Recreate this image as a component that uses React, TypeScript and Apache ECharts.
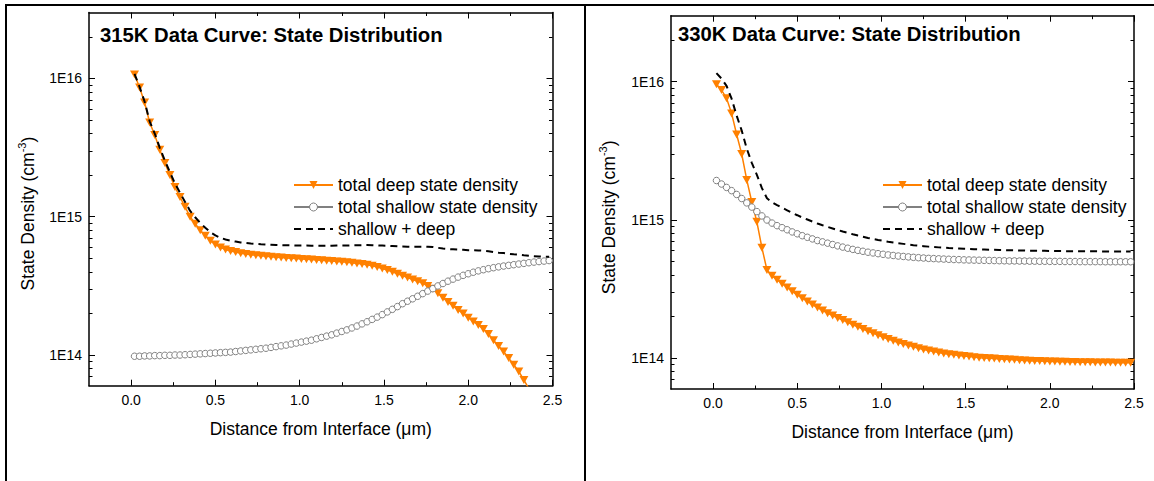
import React, { useEffect, useRef } from "react";
import * as echarts from "echarts";

// Values in units of 1E14 cm^-3
const UNIT = 1e14;

const distance = [
  0.02, 0.05, 0.08, 0.11, 0.14, 0.17, 0.2, 0.23, 0.26, 0.29,
  0.32, 0.35, 0.38, 0.41, 0.44, 0.47, 0.5, 0.53, 0.56, 0.59,
  0.62, 0.65, 0.68, 0.71, 0.74, 0.77, 0.8, 0.83, 0.86, 0.89,
  0.92, 0.95, 0.98, 1.01, 1.04, 1.07, 1.1, 1.13, 1.16, 1.19,
  1.22, 1.25, 1.28, 1.31, 1.34, 1.37, 1.4, 1.43, 1.46, 1.49,
  1.52, 1.55, 1.58, 1.61, 1.64, 1.67, 1.7, 1.73, 1.76, 1.79,
  1.82, 1.85, 1.88, 1.91, 1.94, 1.97, 2.0, 2.03, 2.06, 2.09,
  2.12, 2.15, 2.18, 2.21, 2.24, 2.27, 2.3, 2.33, 2.36, 2.39,
  2.42, 2.45, 2.48,
];

const deep315 = [
  107, 86, 67, 48, 39, 30.5, 24.5, 20, 16.4, 13.9,
  11.8, 10.0, 8.9, 8.0, 7.3, 6.7, 6.3, 6.0, 5.8, 5.65,
  5.55, 5.45, 5.38, 5.32, 5.27, 5.22, 5.18, 5.14, 5.1, 5.07,
  5.04, 5.01, 4.98, 4.95, 4.93, 4.9, 4.87, 4.84, 4.81, 4.78,
  4.75, 4.72, 4.68, 4.64, 4.6, 4.55, 4.5, 4.42, 4.33, 4.23,
  4.12, 4.0, 3.87, 3.75, 3.63, 3.52, 3.42, 3.3, 3.16, 3.02,
  2.8, 2.6, 2.42, 2.27, 2.12, 2.0, 1.86, 1.75, 1.65, 1.54,
  1.42, 1.28, 1.16, 1.06, 0.95, 0.85, 0.76, 0.66, 0.57, 0.49,
  0.42, 0.36, 0.31,
];

const shallow315 = [
  0.98, 0.98, 0.985, 0.985, 0.99, 0.99, 0.995, 0.995, 1.0, 1.0,
  1.005, 1.01, 1.015, 1.02, 1.025, 1.03, 1.035, 1.04, 1.045, 1.05,
  1.06, 1.07, 1.08, 1.09, 1.1, 1.11, 1.12, 1.135, 1.15, 1.165,
  1.18, 1.2, 1.22, 1.24, 1.26, 1.28, 1.31, 1.34, 1.37, 1.4,
  1.44, 1.48, 1.52, 1.57, 1.62, 1.68, 1.74, 1.81, 1.88, 1.96,
  2.05, 2.14, 2.24, 2.35, 2.45, 2.55, 2.66, 2.78, 2.9, 3.02,
  3.16, 3.29, 3.42, 3.54, 3.66, 3.77, 3.87, 3.97, 4.06, 4.14,
  4.21, 4.28, 4.34, 4.4, 4.45, 4.5, 4.55, 4.6, 4.65, 4.7,
  4.74, 4.78, 4.82,
];

const deep330 = [
  96, 87, 76, 59, 41.5, 30, 19.5, 13.5, 9.7, 6.3,
  4.35, 3.95, 3.7, 3.46, 3.25, 3.05, 2.88, 2.72, 2.58, 2.45,
  2.33, 2.22, 2.12, 2.04, 1.96, 1.89, 1.82, 1.75, 1.69, 1.63,
  1.57, 1.52, 1.47, 1.42, 1.38, 1.34, 1.3, 1.27, 1.24, 1.21,
  1.18, 1.16, 1.14, 1.12, 1.1, 1.085, 1.07, 1.06, 1.05, 1.04,
  1.03, 1.02, 1.01, 1.005, 1.0, 0.995, 0.99, 0.985, 0.98, 0.975,
  0.97, 0.966, 0.962, 0.958, 0.955, 0.952, 0.95, 0.948, 0.946, 0.944,
  0.942, 0.94, 0.938, 0.936, 0.935, 0.934, 0.933, 0.932, 0.931, 0.93,
  0.93, 0.93, 0.93,
];

const shallow330 = [
  19.3, 18.2, 17.2, 16.3, 15.3, 14.3, 13.3, 12.4, 11.5, 10.7,
  10.0, 9.5, 9.1, 8.8, 8.5, 8.2, 7.95, 7.7, 7.5, 7.3,
  7.1, 6.95, 6.8, 6.65, 6.5, 6.37, 6.25, 6.13, 6.03, 5.94,
  5.85, 5.78, 5.71, 5.65, 5.59, 5.54, 5.49, 5.45, 5.41, 5.37,
  5.34, 5.31, 5.28, 5.26, 5.24, 5.22, 5.2, 5.18, 5.17, 5.15,
  5.14, 5.13, 5.12, 5.11, 5.1, 5.09, 5.08, 5.07, 5.06, 5.06,
  5.05, 5.05, 5.04, 5.04, 5.03, 5.03, 5.02, 5.02, 5.02, 5.01,
  5.01, 5.01, 5.0, 5.0, 5.0, 5.0, 5.0, 4.99, 4.99, 4.99,
  4.99, 4.99, 4.99,
];

const panelTitles = [
  "315K Data Curve: State Distribution",
  "330K Data Curve: State Distribution",
];
const seriesNames = [
  "total deep state density",
  "total shallow state density",
  "shallow + deep",
];
const xAxisTitle = "Distance from Interface (\u03bcm)";
const yAxisTitle = "{n|State Density (cm}{s|-3}{n|)}";

const xRange = [-0.25, 2.5];
const yRange = [6e13, 3e16];
const xTickValues = [0, 0.5, 1, 1.5, 2, 2.5];
const xMinorValues = [0.25, 0.75, 1.25, 1.75, 2.25];
const yTickValues = [1e14, 1e15, 1e16];
const yTickLabels = ["1E14", "1E15", "1E16"];
const yMinorValues = [
  7e13, 8e13, 9e13,
  2e14, 3e14, 4e14, 5e14, 6e14, 7e14, 8e14, 9e14,
  2e15, 3e15, 4e15, 5e15, 6e15, 7e15, 8e15, 9e15,
  2e16,
];

const FONT = "'Liberation Sans', Arial, Helvetica, sans-serif";
const ORANGE = "#FF8000";
const GRAY = "#808080";

const panels = [
  {
    grid: { left: 89, top: 12.5, width: 463.5, height: 373.2 },
    title: { left: 100, top: 25 },
    legend: { left: 293, top: 174 },
    yNameGap: 61.5,
    yNameShift: 29,
    deep: deep315,
    shallow: shallow315,
  },
  {
    grid: { left: 671, top: 15.7, width: 463, height: 373.3 },
    title: { left: 678, top: 24.3 },
    legend: { left: 882, top: 174 },
    yNameGap: 62.5,
    yNameShift: 30,
    deep: deep330,
    shallow: shallow330,
  },
];

function yLabel(v: number): string {
  const i = yTickValues.findIndex((t) => Math.abs(t - v) / t < 1e-6);
  return i >= 0 ? yTickLabels[i] : "";
}

function buildOption() {
  const grids: any[] = [];
  const xAxes: any[] = [];
  const yAxes: any[] = [];
  const series: any[] = [];
  const titles: any[] = [];
  const legends: any[] = [];

  const axisLine = { show: true, onZero: false, lineStyle: { color: "#000", width: 1.5 } };
  const noLine = { show: false, onZero: false };
  const majorTick = (vals: number[]) => ({
    show: true,
    inside: true,
    length: 6,
    customValues: vals,
    lineStyle: { color: "#000", width: 1 },
  });
  const minorTick = (vals: number[]) => ({
    show: true,
    inside: true,
    length: 3.5,
    customValues: vals,
    lineStyle: { color: "#000", width: 1 },
  });
  const noLabel = { show: false };

  panels.forEach((p, pi) => {
    const gMain = pi * 2;
    const gMinor = pi * 2 + 1;
    grids.push({ ...p.grid, outerBoundsMode: "none", containLabel: false });
    grids.push({ ...p.grid, outerBoundsMode: "none", containLabel: false });

    const xBase = { type: "value", min: xRange[0], max: xRange[1], splitLine: { show: false } };
    const yBase = { type: "log", logBase: 10, min: yRange[0], max: yRange[1], splitLine: { show: false } };

    xAxes.push(
      {
        ...xBase,
        gridIndex: gMain,
        position: "bottom",
        axisLine,
        axisTick: majorTick(xTickValues),
        axisLabel: {
          customValues: xTickValues,
          formatter: (v: number) => v.toFixed(1),
          margin: 7,
          fontSize: 14,
          color: "#000",
          fontFamily: FONT,
        },
        name: xAxisTitle,
        nameLocation: "middle",
        nameGap: 43,
        nameMoveOverlap: false,
        nameTextStyle: { fontSize: 17.5, color: "#000", fontFamily: FONT, verticalAlign: "middle" },
      },
      { ...xBase, gridIndex: gMain, position: "top", axisLine, axisTick: majorTick(xTickValues), axisLabel: noLabel },
      { ...xBase, gridIndex: gMinor, position: "bottom", axisLine: noLine, axisTick: minorTick(xMinorValues), axisLabel: noLabel },
      { ...xBase, gridIndex: gMinor, position: "top", axisLine: noLine, axisTick: minorTick(xMinorValues), axisLabel: noLabel }
    );

    yAxes.push(
      {
        ...yBase,
        gridIndex: gMain,
        position: "left",
        axisLine,
        axisTick: majorTick(yTickValues),
        axisLabel: {
          customValues: yTickValues,
          formatter: yLabel,
          margin: 7,
          fontSize: 14,
          color: "#000",
          fontFamily: FONT,
        },
        name: yAxisTitle,
        nameLocation: "middle",
        nameGap: p.yNameGap,
        nameMoveOverlap: false,
        nameTextStyle: {
          fontSize: 17.5,
          color: "#000",
          fontFamily: FONT,
          verticalAlign: "middle",
          padding: [0, p.yNameShift, 0, 0],
          rich: {
            n: { fontSize: 17.5, fontFamily: FONT, color: "#000", lineHeight: 22 },
            s: { fontSize: 11, fontFamily: FONT, color: "#000", lineHeight: 12, verticalAlign: "top" },
          },
        },
      },
      { ...yBase, gridIndex: gMain, position: "right", axisLine, axisTick: majorTick(yTickValues), axisLabel: noLabel },
      { ...yBase, gridIndex: gMinor, position: "left", axisLine: noLine, axisTick: minorTick(yMinorValues), axisLabel: noLabel },
      { ...yBase, gridIndex: gMinor, position: "right", axisLine: noLine, axisTick: minorTick(yMinorValues), axisLabel: noLabel }
    );

    const ax = pi * 4;
    series.push(
      {
        type: "line",
        name: seriesNames[0],
        xAxisIndex: ax,
        yAxisIndex: ax,
        data: distance.map((x, i) => [x, p.deep[i] * UNIT]),
        symbol: "triangle",
        symbolRotate: 180,
        symbolSize: [9, 8],
        showSymbol: true,
        clip: true,
        itemStyle: { color: ORANGE },
        lineStyle: { color: ORANGE, width: 1.5 },
        emphasis: { disabled: true },
        z: 2,
      },
      {
        type: "line",
        name: seriesNames[1],
        xAxisIndex: ax,
        yAxisIndex: ax,
        data: distance.map((x, i) => [x, p.shallow[i] * UNIT]),
        symbol: "circle",
        symbolSize: 6.5,
        showSymbol: true,
        clip: true,
        itemStyle: { color: "#fff", borderColor: GRAY, borderWidth: 1 },
        lineStyle: { color: GRAY, width: 1.5 },
        emphasis: { disabled: true },
        z: 3,
      },
      {
        type: "line",
        name: seriesNames[2],
        xAxisIndex: ax,
        yAxisIndex: ax,
        data: distance.map((x, i) => [x, (p.deep[i] + p.shallow[i]) * UNIT]),
        symbol: "none",
        showSymbol: false,
        clip: true,
        lineStyle: { color: "#000", width: 2, type: [7, 5] },
        emphasis: { disabled: true },
        z: 4,
      }
    );

    titles.push({
      text: panelTitles[pi],
      left: p.title.left,
      top: p.title.top,
      padding: 0,
      textStyle: { fontSize: 20.3, fontWeight: "bold", fontFamily: FONT, color: "#000", lineHeight: 20 },
    });

    legends.push({
      left: p.legend.left,
      top: p.legend.top,
      orient: "vertical",
      padding: 0,
      itemGap: 0,
      itemWidth: 39,
      itemHeight: 10,
      selectedMode: false,
      textStyle: { fontSize: 17.5, fontFamily: FONT, color: "#000", lineHeight: 22 },
      data: [
        { name: seriesNames[0] },
        { name: seriesNames[1], itemStyle: { borderWidth: 1 } },
        { name: seriesNames[2], itemStyle: { opacity: 0 } },
      ],
    });
  });

  const graphic = [
    { type: "rect", shape: { x: 5, y: 4, width: 1149, height: 2 }, style: { fill: "#000" }, silent: true },
    { type: "rect", shape: { x: 5, y: 4, width: 2, height: 477 }, style: { fill: "#000" }, silent: true },
    { type: "rect", shape: { x: 584, y: 4, width: 2, height: 477 }, style: { fill: "#000" }, silent: true },
  ];

  return {
    animation: false,
    backgroundColor: "#fff",
    textStyle: { fontFamily: FONT },
    title: titles,
    legend: legends,
    grid: grids,
    xAxis: xAxes,
    yAxis: yAxes,
    series,
    graphic,
  };
}

export default function App() {
  const ref = useRef<HTMLDivElement>(null);
  useEffect(() => {
    if (!ref.current) return;
    const chart = echarts.init(ref.current, undefined, { renderer: "svg" });
    chart.setOption(buildOption() as any);
    return () => chart.dispose();
  }, []);
  return (
    <div
      ref={ref}
      style={{ position: "absolute", left: 0, top: 0, width: 1154, height: 481, background: "#fff" }}
    />
  );
}
